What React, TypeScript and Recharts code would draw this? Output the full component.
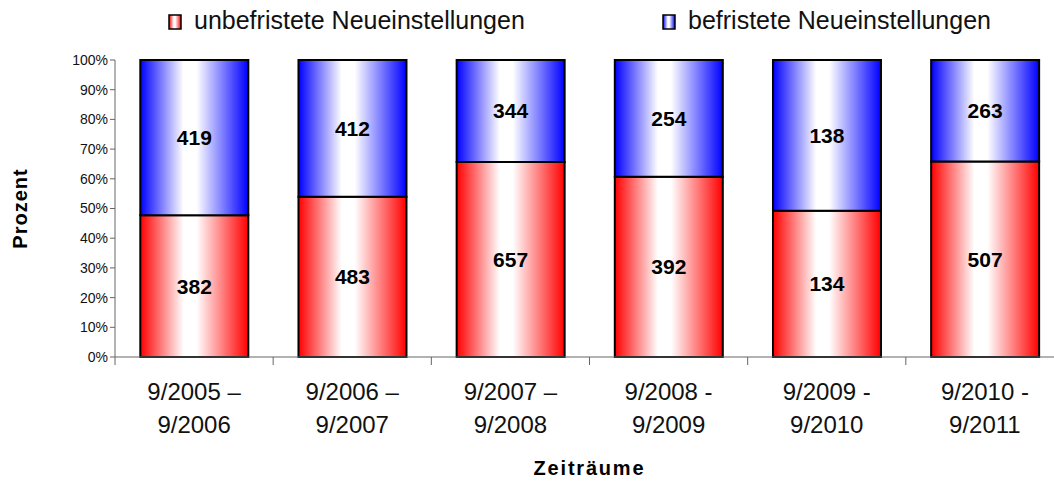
import { BarChart, Bar, XAxis, YAxis, LabelList } from 'recharts';

const periodFrom = ['9/2005 –', '9/2006 –', '9/2007 –', '9/2008 -', '9/2009 -', '9/2010 -'];
const periodTo = ['9/2006', '9/2007', '9/2008', '9/2009', '9/2010', '9/2011'];
const unbefristet = [382, 483, 657, 392, 134, 507];
const befristet = [419, 412, 344, 254, 138, 263];
const percentTicks = [0, 0.1, 0.2, 0.3, 0.4, 0.5, 0.6, 0.7, 0.8, 0.9, 1];

const data = periodFrom.map((from, i) => ({
  period: `${from}\n${periodTo[i]}`,
  unbefristet: unbefristet[i],
  befristet: befristet[i],
}));

const FONT = '"Liberation Sans", Arial, sans-serif';

const PeriodTick = (props: any) => {
  const { x, y, payload, index } = props;
  const [l1, l2] = String(payload.value).split('\n');
  const half = payload.offset ?? 0;
  return (
    <g>
      <line x1={x - half} x2={x - half} y1={y} y2={y + 8} stroke="#666" />
      {index === data.length - 1 && (
        <line x1={x + half} x2={x + half} y1={y} y2={y + 8} stroke="#666" />
      )}
      <text x={x} y={y} textAnchor="middle" fontSize={24} fill="#111" fontFamily={FONT}>
        <tspan x={x} dy={43}>{l1}</tspan>
        <tspan x={x} dy={33}>{l2}</tspan>
      </text>
    </g>
  );
};

const Grad = ({ id, color }: { id: string; color: string }) => (
  <linearGradient id={id} x1="0" y1="0" x2="1" y2="0">
    <stop offset="0%" stopColor={color} />
    <stop offset="40%" stopColor="#ffffff" />
    <stop offset="52%" stopColor="#ffffff" />
    <stop offset="100%" stopColor={color} />
  </linearGradient>
);

const LegendItem = ({ left, grad, color, text }: any) => (
  <div style={{ position: 'absolute', left, top: 8, display: 'flex', alignItems: 'center' }}>
    <svg width={15} height={17} style={{ marginRight: 11, marginTop: 4 }}>
      <defs>
        <Grad id={grad} color={color} />
      </defs>
      <rect x={1} y={1} width={12} height={14} fill={`url(#${grad})`} stroke="#000" strokeWidth={1.5} />
    </svg>
    <span style={{ fontSize: 25, lineHeight: '25px', color: '#111', fontFamily: FONT, whiteSpace: 'nowrap' }}>
      {text}
    </span>
  </div>
);

export default function App() {
  return (
    <div style={{ position: 'absolute', left: 0, top: 0, width: 1054, height: 481, overflow: 'hidden', background: '#fff' }}>
      <LegendItem left={168} grad="legRed" color="#ff0000" text="unbefristete Neueinstellungen" />
      <LegendItem left={662} grad="legBlue" color="#0000ff" text="befristete Neueinstellungen" />
      <BarChart
        width={1064}
        height={481}
        data={data}
        stackOffset="expand"
        barCategoryGap="16%"
        margin={{ top: 60, right: 0, bottom: 0, left: 0 }}
        style={{ fontFamily: FONT }}
      >
        <defs>
          <Grad id="redGrad" color="#ff0000" />
          <Grad id="blueGrad" color="#0000ff" />
        </defs>
        <XAxis
          dataKey="period"
          height={124}
          interval={0}
          tickLine={false}
          tickSize={0}
          tickMargin={0}
          axisLine={{ stroke: '#666' }}
          tick={<PeriodTick />}
          label={{ value: 'Zeiträume', position: 'insideBottom', offset: 6, fontSize: 20, fontWeight: 'bold', fill: '#000', letterSpacing: 1.8 }}
        />
        <YAxis
          width={115}
          domain={[0, 1]}
          ticks={percentTicks}
          interval={0}
          tickFormatter={(v: number) => `${Math.round(v * 100)}%`}
          tick={{ fontSize: 14, fill: '#111' }}
          tickSize={5}
          tickMargin={2}
          axisLine={{ stroke: '#666' }}
          tickLine={{ stroke: '#666' }}
          label={({ viewBox }: any) => {
            const cx = viewBox.x + 20;
            const cy = viewBox.y + viewBox.height / 2;
            return (
              <text
                x={cx}
                y={cy}
                transform={`rotate(-90 ${cx} ${cy})`}
                textAnchor="middle"
                dominantBaseline="central"
                fontSize={20}
                fontWeight="bold"
                letterSpacing={1}
                fill="#000"
              >
                Prozent
              </text>
            );
          }}
        />
        <Bar dataKey="unbefristet" stackId="a" fill="url(#redGrad)" stroke="#000" strokeWidth={2} isAnimationActive={false}>
          <LabelList dataKey="unbefristet" position="center" fill="#000" fontSize={21} fontWeight="bold" />
        </Bar>
        <Bar dataKey="befristet" stackId="a" fill="url(#blueGrad)" stroke="#000" strokeWidth={2} isAnimationActive={false}>
          <LabelList dataKey="befristet" position="center" fill="#000" fontSize={21} fontWeight="bold" />
        </Bar>
      </BarChart>
    </div>
  );
}
